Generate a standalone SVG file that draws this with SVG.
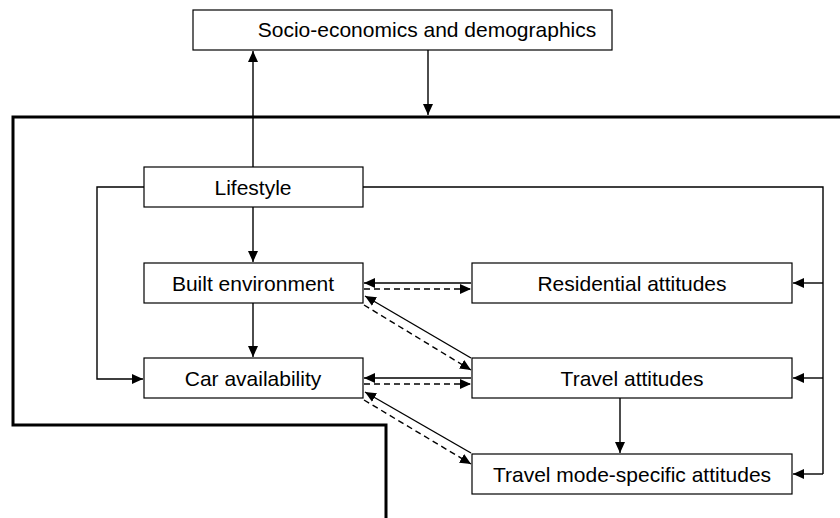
<svg xmlns="http://www.w3.org/2000/svg" width="840" height="518" viewBox="0 0 840 518">
<style>
.box{fill:#fff;stroke:#000;stroke-width:1.2}
.t{font-family:"Liberation Sans",Arial,sans-serif;font-size:21px;fill:#000;text-anchor:middle}
.c{fill:none;stroke:#000;stroke-width:1.4}
.d{fill:none;stroke:#000;stroke-width:1.4;stroke-dasharray:6,4}
.heavy{fill:none;stroke:#000;stroke-width:3}
</style>
<defs>
<marker id="ah" markerUnits="userSpaceOnUse" markerWidth="12" markerHeight="10" refX="11" refY="5" orient="auto">
<path d="M0,0 L11,5 L0,10 z" fill="#000"/>
</marker>
</defs>
<rect width="840" height="518" fill="#fff"/>
<g id="connectors">
<path class="heavy" d="M840,117 H13 V425 H386 V518"/>
<path class="c" d="M253,167 V51" marker-end="url(#ah)"/>
<path class="c" d="M428,50 V115" marker-end="url(#ah)"/>
<path class="c" d="M253,207 V262" marker-end="url(#ah)"/>
<path class="c" d="M253,303 V357" marker-end="url(#ah)"/>
<path class="c" d="M144,187 H97 V379 H143" marker-end="url(#ah)"/>
<path class="c" d="M363,187 H823 V474"/>
<path class="c" d="M823,283 H793" marker-end="url(#ah)"/>
<path class="c" d="M823,378 H793" marker-end="url(#ah)"/>
<path class="c" d="M823,474 H793" marker-end="url(#ah)"/>
<path class="c" d="M471,283 H364" marker-end="url(#ah)"/>
<path class="d" d="M364,289 H471" marker-end="url(#ah)"/>
<path class="c" d="M471,358 L365,296" marker-end="url(#ah)"/>
<path class="d" d="M364,305 L471,370" marker-end="url(#ah)"/>
<path class="c" d="M471,378 H364" marker-end="url(#ah)"/>
<path class="d" d="M364,384 H471" marker-end="url(#ah)"/>
<path class="c" d="M471,453 L365,392" marker-end="url(#ah)"/>
<path class="d" d="M364,400 L471,464" marker-end="url(#ah)"/>
<path class="c" d="M620,398 V453" marker-end="url(#ah)"/>
</g>
<g id="socio"><rect class="box" x="193" y="10" width="419" height="40"/><text class="t" x="427" y="37">Socio-economics and demographics</text></g>
<g id="lifestyle"><rect class="box" x="144" y="167" width="219" height="40"/><text class="t" x="253" y="195">Lifestyle</text></g>
<g id="built"><rect class="box" x="144" y="263" width="219" height="40"/><text class="t" x="253" y="291">Built environment</text></g>
<g id="car"><rect class="box" x="144" y="358" width="219" height="40"/><text class="t" x="253" y="386">Car availability</text></g>
<g id="residential"><rect class="box" x="472" y="263" width="320" height="40"/><text class="t" x="632" y="291">Residential attitudes</text></g>
<g id="travel"><rect class="box" x="472" y="358" width="320" height="40"/><text class="t" x="632" y="386">Travel attitudes</text></g>
<g id="mode"><rect class="box" x="472" y="454" width="320" height="40"/><text class="t" x="632" y="482">Travel mode-specific attitudes</text></g>
</svg>
